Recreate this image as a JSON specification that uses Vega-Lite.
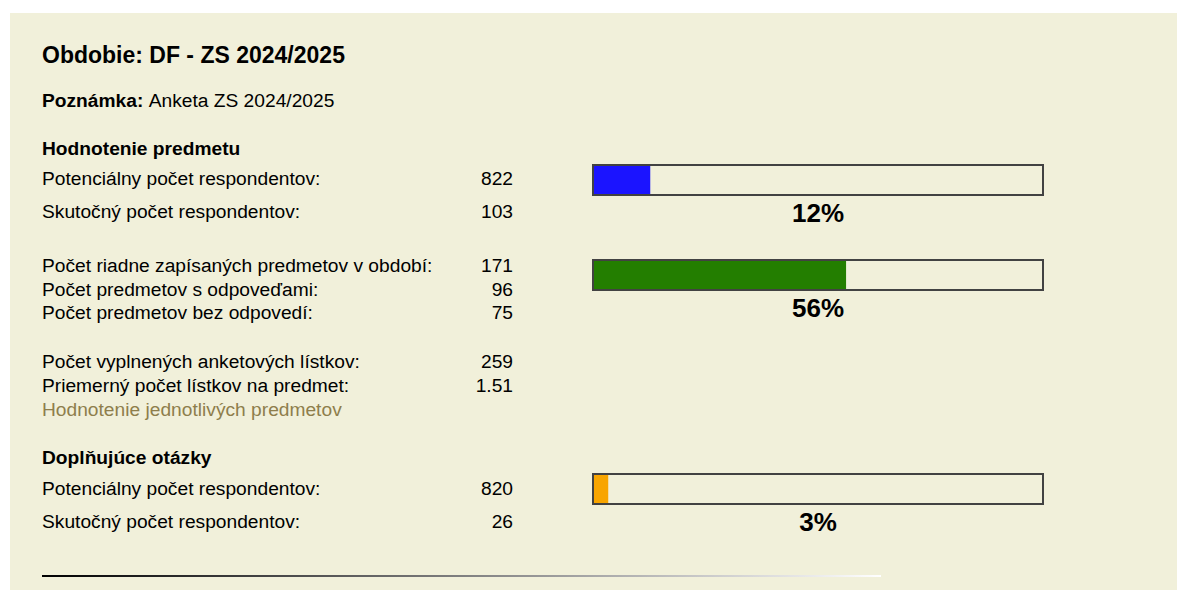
{
  "$schema": "https://vega.github.io/schema/vega-lite/v6.json",
  "autosize": {"type": "fit", "contains": "padding"},
  "width": 1179,
  "height": 590,
  "padding": {"left": 10, "top": 13, "right": 2, "bottom": 0},
  "background": "white",
  "config": {"view": {"stroke": null, "fill": "#F1F0DA"}, "text": {"font": "Liberation Sans", "baseline": "alphabetic", "color": "#000000"}},
  "datasets": {
    "rows": [
      {"kind": "title", "label": "Obdobie: DF - ZS 2024/2025", "value": "", "line": 63},
      {"kind": "note", "label": "Poznámka:", "value": "Anketa ZS 2024/2025", "line": 107},
      {"kind": "heading", "label": "Hodnotenie predmetu", "value": "", "line": 155},
      {"kind": "item", "label": "Potenciálny počet respondentov:", "value": "822", "line": 185},
      {"kind": "item", "label": "Skutočný počet respondentov:", "value": "103", "line": 218},
      {"kind": "item", "label": "Počet riadne zapísaných predmetov v období:", "value": "171", "line": 272},
      {"kind": "item", "label": "Počet predmetov s odpoveďami:", "value": "96", "line": 296},
      {"kind": "item", "label": "Počet predmetov bez odpovedí:", "value": "75", "line": 319},
      {"kind": "item", "label": "Počet vyplnených anketových lístkov:", "value": "259", "line": 368},
      {"kind": "item", "label": "Priemerný počet lístkov na predmet:", "value": "1.51", "line": 392},
      {"kind": "link", "label": "Hodnotenie jednotlivých predmetov", "value": "", "line": 416},
      {"kind": "heading", "label": "Doplňujúce otázky", "value": "", "line": 464},
      {"kind": "item", "label": "Potenciálny počet respondentov:", "value": "820", "line": 495},
      {"kind": "item", "label": "Skutočný počet respondentov:", "value": "26", "line": 528}
    ],
    "bars": [
      {"group": "respondenti", "pct": 12.53, "full": 100, "mid": 50, "text": "12%", "line": 180, "textline": 222},
      {"group": "predmety", "pct": 56.14, "full": 100, "mid": 50, "text": "56%", "line": 275, "textline": 317},
      {"group": "doplnujuce", "pct": 3.17, "full": 100, "mid": 50, "text": "3%", "line": 489, "textline": 531}
    ]
  },
  "resolve": {"scale": {"x": "independent"}},
  "layer": [
    {
      "data": {"name": "rows"},
      "transform": [{"filter": "datum.kind === 'title'"}],
      "mark": {"type": "text", "align": "left", "fontSize": 23, "fontWeight": "bold"},
      "encoding": {
        "x": {"datum": 42, "type": "quantitative", "scale": {"domain": [10, 1177], "nice": false, "zero": false, "padding": 0}, "axis": null},
        "y": {"field": "line", "type": "quantitative", "scale": {"domain": [13, 590], "reverse": true, "nice": false, "zero": false, "padding": 0}, "axis": null},
        "text": {"field": "label", "type": "nominal"}
      }
    },
    {
      "data": {"name": "rows"},
      "transform": [{"filter": "datum.kind === 'heading' || datum.kind === 'note'"}],
      "mark": {"type": "text", "align": "left", "fontSize": 19.2, "fontWeight": "bold"},
      "encoding": {
        "x": {"datum": 42, "type": "quantitative", "scale": {"domain": [10, 1177], "nice": false, "zero": false, "padding": 0}, "axis": null},
        "y": {"field": "line", "type": "quantitative", "axis": null},
        "text": {"field": "label", "type": "nominal"}
      }
    },
    {
      "data": {"name": "rows"},
      "transform": [{"filter": "datum.kind === 'note'"}],
      "mark": {"type": "text", "align": "left", "fontSize": 19.2},
      "encoding": {
        "x": {"datum": 148.7, "type": "quantitative", "scale": {"domain": [10, 1177], "nice": false, "zero": false, "padding": 0}, "axis": null},
        "y": {"field": "line", "type": "quantitative", "axis": null},
        "text": {"field": "value", "type": "nominal"}
      }
    },
    {
      "data": {"name": "rows"},
      "transform": [{"filter": "datum.kind === 'item'"}],
      "mark": {"type": "text", "align": "left", "fontSize": 19.2},
      "encoding": {
        "x": {"datum": 42, "type": "quantitative", "scale": {"domain": [10, 1177], "nice": false, "zero": false, "padding": 0}, "axis": null},
        "y": {"field": "line", "type": "quantitative", "axis": null},
        "text": {"field": "label", "type": "nominal"}
      }
    },
    {
      "data": {"name": "rows"},
      "transform": [{"filter": "datum.kind === 'link'"}],
      "mark": {"type": "text", "align": "left", "fontSize": 19.2, "color": "#8E7E4C"},
      "encoding": {
        "x": {"datum": 42, "type": "quantitative", "scale": {"domain": [10, 1177], "nice": false, "zero": false, "padding": 0}, "axis": null},
        "y": {"field": "line", "type": "quantitative", "axis": null},
        "text": {"field": "label", "type": "nominal"}
      }
    },
    {
      "data": {"name": "rows"},
      "transform": [{"filter": "datum.kind === 'item'"}],
      "mark": {"type": "text", "align": "right", "fontSize": 19.2},
      "encoding": {
        "x": {"datum": 513, "type": "quantitative", "scale": {"domain": [10, 1177], "nice": false, "zero": false, "padding": 0}, "axis": null},
        "y": {"field": "line", "type": "quantitative", "axis": null},
        "text": {"field": "value", "type": "nominal"}
      }
    },
    {
      "data": {"name": "rows"},
      "transform": [{"filter": "datum.kind === 'title'"}],
      "mark": {"type": "rect", "fill": {"gradient": "linear", "stops": [{"offset": 0, "color": "#000000"}, {"offset": 1, "color": "#FFFFFF"}]}},
      "encoding": {
        "x": {"datum": 42, "type": "quantitative", "scale": {"domain": [10, 1177], "nice": false, "zero": false, "padding": 0}, "axis": null},
        "x2": {"datum": 881},
        "y": {"datum": 575, "type": "quantitative", "axis": null},
        "y2": {"datum": 577}
      }
    },
    {
      "data": {"name": "bars"},
      "mark": {"type": "bar", "orient": "horizontal", "height": 30, "fill": "#F1F0DA", "stroke": "#424242", "strokeWidth": 2},
      "encoding": {
        "x": {"field": "full", "type": "quantitative", "scale": {"domain": [0, 100], "range": [583, 1033], "nice": false, "zero": true, "padding": 0}, "axis": null},
        "y": {"field": "line", "type": "quantitative", "axis": null}
      }
    },
    {
      "data": {"name": "bars"},
      "mark": {"type": "bar", "orient": "horizontal", "height": 28},
      "encoding": {
        "x": {"field": "pct", "type": "quantitative", "scale": {"domain": [0, 100], "range": [584, 1033], "nice": false, "zero": true, "padding": 0}, "axis": null},
        "y": {"field": "line", "type": "quantitative", "axis": null},
        "color": {"field": "group", "type": "nominal", "scale": {"domain": ["respondenti", "predmety", "doplnujuce"], "range": ["#1B14FF", "#237E00", "#F8A500"]}, "legend": null}
      }
    },
    {
      "data": {"name": "bars"},
      "mark": {"type": "text", "align": "center", "fontSize": 26, "fontWeight": "bold"},
      "encoding": {
        "x": {"field": "mid", "type": "quantitative", "scale": {"domain": [0, 100], "range": [583, 1033], "nice": false, "zero": true, "padding": 0}, "axis": null},
        "y": {"field": "textline", "type": "quantitative", "axis": null},
        "text": {"field": "text", "type": "nominal"}
      }
    }
  ]
}
